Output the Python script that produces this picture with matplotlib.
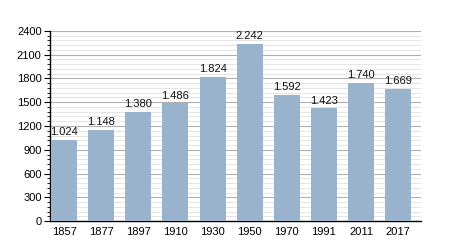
import matplotlib
matplotlib.use('Agg')
import matplotlib.pyplot as plt
import numpy as np
from matplotlib.ticker import MultipleLocator

# --- Dữ liệu ---
years = ['1857', '1877', '1897', '1910', '1930', '1950', '1970', '1991', '2011', '2017']
population = [1024, 1148, 1380, 1486, 1824, 2242, 1592, 1423, 1740, 1669]
value_labels = ['1.024', '1.148', '1.380', '1.486', '1.824', '2.242', '1.592', '1.423', '1.740', '1.669']

plt.rcParams['font.family'] = ['Liberation Sans', 'DejaVu Sans']

fig = plt.figure(figsize=(4.5, 2.5), dpi=100)
ax = fig.add_axes([0.111, 0.116, 0.825, 0.76])

x = np.arange(len(years))
bar_w = 0.7
bars = ax.bar(x + 0.03, population, width=bar_w, align='edge',
              color='#9ab3cd', zorder=3)

# Nhãn giá trị trên mỗi cột
for rect, lab in zip(bars, value_labels):
    ax.text(rect.get_x() + rect.get_width() / 2, rect.get_height() + 35, lab,
            ha='center', va='bottom', fontsize=8, color='#111111')

ax.set_xlim(0, len(years))
ax.set_ylim(0, 2400)
ax.set_xticks(x + 0.03 + bar_w / 2)
ax.set_xticklabels(years)

ax.yaxis.set_major_locator(MultipleLocator(300))
ax.yaxis.set_minor_locator(MultipleLocator(60))
ax.grid(axis='y', which='major', color='#b0b0b0', linewidth=0.8, zorder=0)
ax.grid(axis='y', which='minor', color='#e0e0e0', linewidth=0.6, zorder=0)

for s in ['top', 'right']:
    ax.spines[s].set_visible(False)
ax.spines['left'].set_linewidth(1.0)
ax.spines['bottom'].set_linewidth(1.0)

ax.tick_params(axis='y', which='major', length=4, width=0.8, labelsize=8, pad=2)
ax.tick_params(axis='y', which='minor', length=2, width=0.6)
ax.tick_params(axis='x', length=0, labelsize=8, pad=4)

plt.savefig('out.png', dpi=100)
